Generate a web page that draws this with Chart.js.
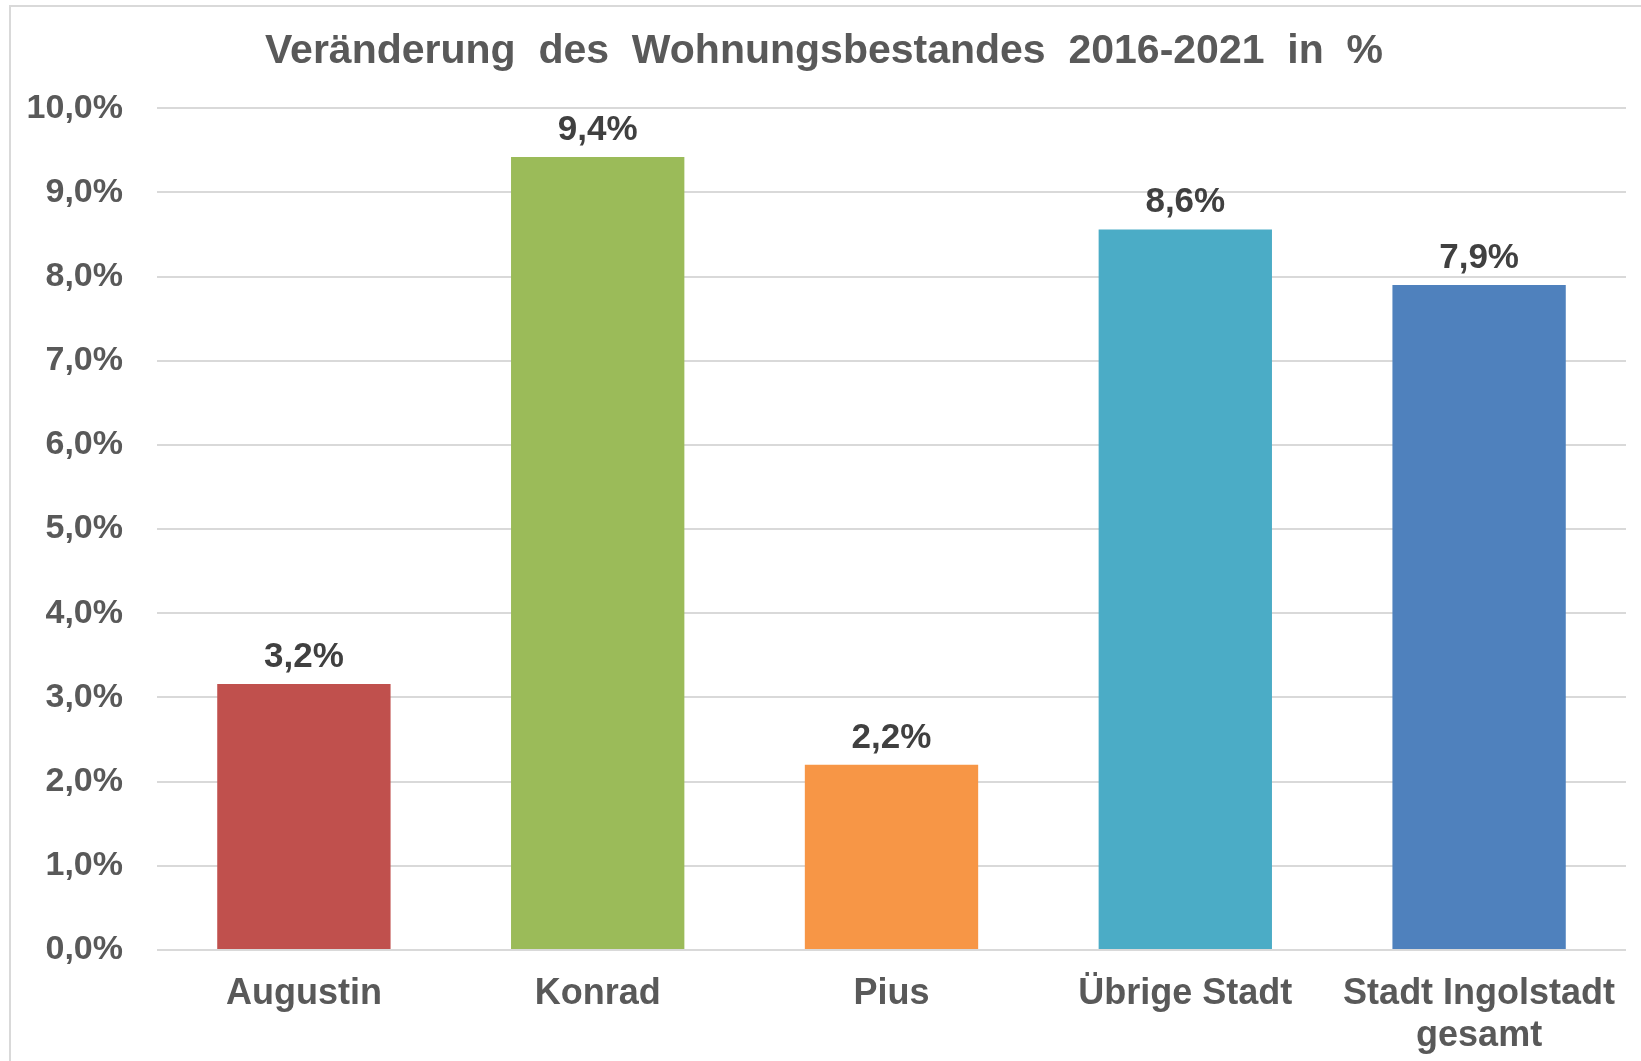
<!DOCTYPE html>
<html>
<head>
<meta charset="utf-8">
<script src="https://cdn.jsdelivr.net/npm/chart.js@4.4.1/dist/chart.umd.min.js"></script>
<style>
    html, body { margin: 0; padding: 0; background: #fff; overflow: hidden; }
    #frame {
        position: absolute; left: 9px; top: 5px;
        width: 1700px; height: 1100px;
        border: 2px solid #d9d9d9;
    }
    #wrap { position: absolute; left: 0; top: 0; width: 1641px; height: 1061px; }
</style>
</head>
<body>
<div id="frame"></div>
<div id="wrap"><canvas id="chart" width="1641" height="1061"></canvas></div>
<script>
// Data
const categories = ["Augustin", "Konrad", "Pius", "Übrige Stadt", ["Stadt Ingolstadt", "gesamt"]];
const values = [3.16, 9.42, 2.2, 8.56, 7.9];
const barColors = ["#C0504D", "#9BBB59", "#F79646", "#4BACC6", "#4F81BD"];
const yTicks = [0, 1, 2, 3, 4, 5, 6, 7, 8, 9, 10];

const FONT = "'Liberation Sans', Arial, sans-serif";
const fmt = v => v.toFixed(1).replace(".", ",") + "%";

// draw value labels above bars
const valueLabels = {
    id: "valueLabels",
    afterDatasetsDraw(chart) {
        const ctx = chart.ctx;
        ctx.save();
        ctx.font = "bold 35px " + FONT;
        ctx.fillStyle = "#404040";
        ctx.textAlign = "center";
        ctx.textBaseline = "alphabetic";
        chart.getDatasetMeta(0).data.forEach((bar, i) => {
            ctx.fillText(fmt(values[i]), bar.x, bar.y - 17);
        });
        ctx.restore();
    }
};

new Chart(document.getElementById("chart"), {
    type: "bar",
    data: {
        labels: categories,
        datasets: [{
            data: values,
            backgroundColor: barColors,
            categoryPercentage: 1.0,
            barPercentage: 0.59
        }]
    },
    options: {
        responsive: false,
        animation: false,
        layout: { padding: { left: 22, right: 15, top: 0, bottom: 0 } },
        plugins: {
            legend: { display: false },
            tooltip: { enabled: false },
            title: {
                display: true,
                text: "Veränderung  des  Wohnungsbestandes  2016-2021  in  %",
                color: "#595959",
                font: { family: FONT, size: 41, weight: "bold" },
                padding: { top: 27, bottom: 32 }
            }
        },
        scales: {
            x: {
                grid: { display: false, drawTicks: false },
                border: { display: false },
                ticks: {
                    color: "#595959",
                    font: { family: FONT, size: 36, weight: "bold", lineHeight: 1.17 },
                    padding: 23,
                    maxRotation: 0,
                    autoSkip: false
                },
                afterFit: scale => { scale.height = 111; }
            },
            y: {
                min: 0,
                max: 10,
                grid: { color: "#d9d9d9", lineWidth: 2, drawTicks: false },
                border: { display: false },
                afterBuildTicks: scale => { scale.ticks = yTicks.map(v => ({ value: v })); },
                ticks: {
                    color: "#595959",
                    font: { family: FONT, size: 34, weight: "bold" },
                    padding: 34,
                    callback: v => fmt(v)
                },
                afterFit: scale => { scale.width = 135; }
            }
        }
    },
    plugins: [valueLabels]
});
</script>
</body>
</html>
